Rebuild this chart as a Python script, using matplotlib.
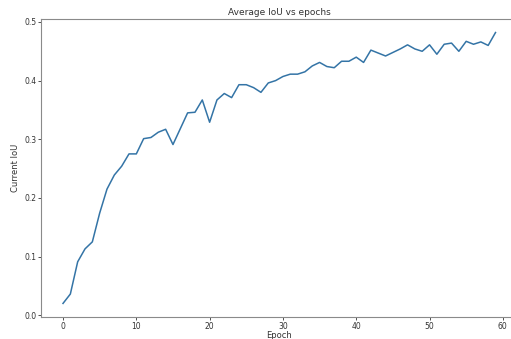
import matplotlib
matplotlib.use('Agg')
import matplotlib.pyplot as plt

# mean IoU after each training epoch
epochs = list(range(60))
iou = [0.020, 0.036, 0.091, 0.113, 0.125, 0.174, 0.215, 0.239, 0.254, 0.275,
       0.275, 0.301, 0.303, 0.312, 0.317, 0.291, 0.318, 0.345, 0.346, 0.367,
       0.329, 0.367, 0.378, 0.371, 0.393, 0.393, 0.388, 0.380, 0.396, 0.400,
       0.407, 0.411, 0.411, 0.415, 0.425, 0.431, 0.424, 0.422, 0.433, 0.433,
       0.440, 0.431, 0.452, 0.447, 0.442, 0.448, 0.454, 0.461, 0.454, 0.450,
       0.461, 0.445, 0.462, 0.464, 0.450, 0.467, 0.462, 0.466, 0.460, 0.482]

x_ticks = [0, 10, 20, 30, 40, 50, 60]
y_ticks = [0.0, 0.1, 0.2, 0.3, 0.4, 0.5]


def draw(epochs, iou):
    fig = plt.figure(figsize=(5.11, 3.39), dpi=100)
    # axes run a little past the right edge of the figure
    ax = fig.add_axes([0.081, 0.065, 0.931, 0.879])
    ax.plot(epochs, iou, color='#3474a6', linewidth=1.1)
    ax.set_xticks(x_ticks)
    ax.set_yticks(y_ticks)
    ax.tick_params(labelsize=5.5, length=2.2, width=0.6, pad=1.2,
                   colors='#333333')
    for s in ax.spines.values():
        s.set_color('#8a8a8a')
        s.set_linewidth(0.8)
    ax.set_title('Average IoU vs epochs', fontsize=6.5, color='#333333', pad=3)
    ax.set_xlabel('Epoch', fontsize=6, color='#333333', labelpad=0.5)
    ax.set_ylabel('Current IoU', fontsize=6, color='#333333', labelpad=3)
    fig.savefig('out.png', dpi=100)


if __name__ == '__main__':
    draw(epochs, iou)
